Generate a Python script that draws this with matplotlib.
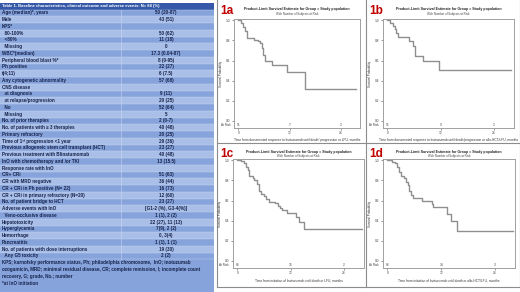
import matplotlib
matplotlib.use("Agg")
import matplotlib.pyplot as plt
from matplotlib.patches import Rectangle
from matplotlib.lines import Line2D

plt.rcParams['font.family'] = ['Liberation Sans', 'DejaVu Sans']

# ---------------- data ----------------
table_title = "Table 1. Baseline characteristics, clinical outcome and adverse events: N= 84 (%)"
row_labels = [
    "Age (median)*, years", "Male", "KPS*", "  80-100%", "  <80%", "  Missing",
    "WBC*(median)", "Peripheral blood blast %*", "Ph positive", "t(4;11)",
    "Any cytogenetic abnormality", "CNS disease", "  at diagnosis",
    "  at relapse/progression", "  No", "  Missing", "No. of prior therapies",
    "No. of patients with \u2265 3 therapies", "Primary refractory",
    "Time of 1\u02e2\u1d57 progression <1 year",
    "Previous allogeneic stem cell transplant (HCT)",
    "Previous treatment with Blinatumomab",
    "InO with chemotherapy and /or TKI", "Response rate with InO",
    "CR+ CRi", "CR with MRD negative", "CR + CRi in Ph positive (N= 22)",
    "CR + CRi in primary refractory (N=20)", "No. of patient bridge to HCT",
    "Adverse events with InO", "  Veno-occlusive disease", "Hepatotoxicity",
    "Hyperglycemia", "Hemorrhage", "Pancreatitis",
    "No. of patients with dose interruptions", "  Any G5 toxicity",
]
row_values = [
    "50 (20-87)", "43 (51)", "", "50 (62)", "11 (18)", "0",
    "17.3 (0.04-87)", "8 (0-95)", "22 (27)", "6 (7.5)",
    "57 (68)", "", "9 (11)",
    "20 (25)", "52 (64)", "5", "2 (0-7)",
    "40 (48)", "20 (25)", "29 (36)", "23 (27)", "40 (48)",
    "13 (15.5)", "", "51 (63)", "36 (44)", "16 (73)",
    "12 (60)", "23 (27)", "[G1-2 (%), G3-4(%)]", "1 (1), 2 (2)",
    "22 (27), 11 (13)", "7(9), 2 (2)", "0, 3(4)", "1 (1), 1 (1)",
    "19 (30)", "2 (2)",
]
footnotes = [
    "KPS; karnofsky performance status, Ph; philadelphia chromosome,  InO; inotuzumab",
    "ozogamicin, MRD; minimal residual disease, CR; complete remission, I; incomplete count",
    "recovery, G; grade, No.; number",
    "*at InO initiation",
]

panel_names = ["1a", "1b", "1c", "1d"]
panel_title = "Product-Limit Survival Estimate for Group = Study population"
panel_subtitle = "With Number of Subjects at Risk"
x_labels = [
    "Time from documented response to Inotuzumab until death/ progression or LFU, months",
    "Time from documented response to Inotuzumab until death/progression or allo-HCT/LFU, months",
    "Time from initiation of Inotuzumab until death or LFU, months",
    "Time from initiation of Inotuzumab until death or allo-HCT/LFU, months",
]
x_ticks = [0, 12, 24]
y_ticks = [0.0, 0.2, 0.4, 0.6, 0.8, 1.0]

t_1a = [0, 0.7, 1.0, 1.5, 2.0, 3.7, 4.7, 5.2, 5.6, 5.9, 6.3, 8.0, 11.4, 15.7, 27.5]
s_1a = [1.0, 0.97, 0.93, 0.89, 0.82, 0.80, 0.79, 0.77, 0.72, 0.66, 0.60, 0.56, 0.49, 0.32, 0.32]
t_1b = [0, 0.6, 1.2, 1.6, 2.0, 2.4, 4.8, 5.8, 6.3, 8.0, 11.6, 27.8]
s_1b = [1.0, 0.97, 0.94, 0.91, 0.87, 0.83, 0.79, 0.74, 0.65, 0.60, 0.51, 0.51]
t_1c = [0, 0.8, 1.5, 1.9, 2.3, 2.7, 3.4, 3.8, 4.4, 4.8, 5.3, 5.9, 6.5, 7.1, 8.4, 9.2,
        9.5, 10.1, 11.2, 13.1, 13.9, 15.1, 28.0]
s_1c = [1.0, 0.99, 0.97, 0.93, 0.90, 0.84, 0.82, 0.80, 0.76, 0.70, 0.67, 0.65, 0.62, 0.59,
        0.58, 0.55, 0.53, 0.51, 0.48, 0.44, 0.39, 0.32, 0.32]
t_1d = [0, 0.9, 1.6, 2.2, 2.6, 3.0, 3.6, 4.1, 4.5, 4.9, 5.2, 5.6, 7.8, 9.9, 10.2, 13.4,
        14.3, 15.5, 28.0]
s_1d = [1.0, 0.98, 0.97, 0.93, 0.88, 0.84, 0.82, 0.78, 0.75, 0.70, 0.66, 0.63, 0.60, 0.57,
        0.54, 0.47, 0.40, 0.30, 0.30]
at_risk = [["51", "7", "2"], ["51", "9", "2"], ["84", "15", "2"], ["84", "14", "3"]]
times = [t_1a, t_1b, t_1c, t_1d]
survs = [s_1a, s_1b, s_1c, s_1d]

# ---------------- figure ----------------
W, H = 520, 292
fig = plt.figure(figsize=(W / 100, H / 100), dpi=100)
fig.patch.set_facecolor("white")

def px_axes(l, t, r, b):
    return fig.add_axes([l / W, 1 - b / H, (r - l) / W, (b - t) / H])

# ---------------- table ----------------
tw = 214
tab = px_axes(0, 0, tw, H)
tab.set_xlim(0, tw)
tab.set_ylim(H, 0)
tab.axis("off")

dark = "#3559a8"
c_light = "#aabfe7"
c_mid = "#86a3db"
txt = "#17244d"
fs = 3.3
pitch = 6.75
title_top = 2.6
tab.add_patch(Rectangle((0, title_top), tw, 7.0, color=dark, lw=0))
tab.text(2, title_top + 3.6, table_title, color="white", fontsize=2.95, weight="bold",
         va="center", ha="left")
y0 = title_top + 7.0
for i, (lab, val) in enumerate(zip(row_labels, row_values)):
    y = y0 + i * pitch
    col = c_light if i % 2 else c_mid
    tab.add_patch(Rectangle((0, y), tw, pitch, color=col, lw=0))
    tab.plot([0, tw], [y, y], color="#c9d6f0", lw=0.3)
    tab.text(2, y + pitch / 2, lab, color=txt, fontsize=fs, weight="bold", va="center", ha="left")
    if val:
        tab.text(166, y + pitch / 2, val, color=txt, fontsize=fs, weight="bold",
                 va="center", ha="center")
yf = y0 + len(row_labels) * pitch
tab.add_patch(Rectangle((0, yf), tw, H - yf, color=c_mid, lw=0))
tab.plot([0, tw], [yf, yf], color="#c9d6f0", lw=0.3)
tab.plot([121, 121], [y0, yf], color="#c9d6f0", lw=0.4)
for j, line in enumerate(footnotes):
    tab.text(2, yf + 3.4 + j * 6.8, line, color=txt, fontsize=fs, weight="bold",
             va="center", ha="left")

# ---------------- panel separators ----------------
sep = px_axes(0, 0, W, H)
sep.set_xlim(0, W)
sep.set_ylim(H, 0)
sep.axis("off")
for seg in [((217, 217), (0, 287)), ((366, 366), (0, 287)), ((217, 520), (143, 143)),
            ((217, 520), (287, 287)), ((519.5, 519.5), (0, 287))]:
    sep.add_line(Line2D(seg[0], seg[1], color="#8c8c8c", lw=0.8))

# ---------------- KM panels ----------------
boxes = [(234, 19, 360, 128), (383, 19, 514, 128), (233, 159, 364, 268), (383, 159, 515, 268)]
origins = [(217, 0), (366, 0), (217, 143), (366, 143)]
for k in range(4):
    l, t, r, b = boxes[k]
    ox, oy = origins[k]
    ax = px_axes(l, t, r, b)
    ax.step(times[k], survs[k], where="post", color="#8f8f8f", lw=1.0)
    ax.set_xlim(-1, 28.5)
    ax.set_ylim(-0.07, 1.013)
    ax.set_xticks(x_ticks)
    ax.set_yticks(y_ticks)
    ax.set_yticklabels([f"{v:.1f}" for v in y_ticks])
    ax.tick_params(labelsize=2.3, length=1.5, width=0.4, pad=1, colors="#444444")
    for sp in ax.spines.values():
        sp.set_color("#a0a0a0")
        sp.set_linewidth(0.7)
    ax.set_ylabel("Survival Probability", fontsize=2.2, labelpad=2, color="#333333")
    ax.set_xlabel(x_labels[k], fontsize=2.3, labelpad=2, color="#333333")
    for xv, n in zip(x_ticks, at_risk[k]):
        ax.text(xv, -0.045, n, fontsize=2.3, ha="center", va="center", color="#444444")
    ax.text(-0.03, -0.045, "At Risk", transform=ax.get_yaxis_transform(), fontsize=2.2,
            ha="right", va="center", color="#444444")
    cx = (l + r) / 2
    fig.text(cx / W, 1 - (oy + 9) / H, panel_title, fontsize=2.6, weight="bold",
             ha="center", va="center", color="#222222")
    fig.text(cx / W, 1 - (oy + 13.5) / H, panel_subtitle, fontsize=2.1,
             ha="center", va="center", color="#444444")
    fig.text((ox + 3) / W, 1 - (oy + 11) / H, panel_names[k], fontsize=8.5, weight="bold",
             ha="left", va="center", color="#c00000")

fig.savefig("out.png", dpi=100, facecolor="white")
